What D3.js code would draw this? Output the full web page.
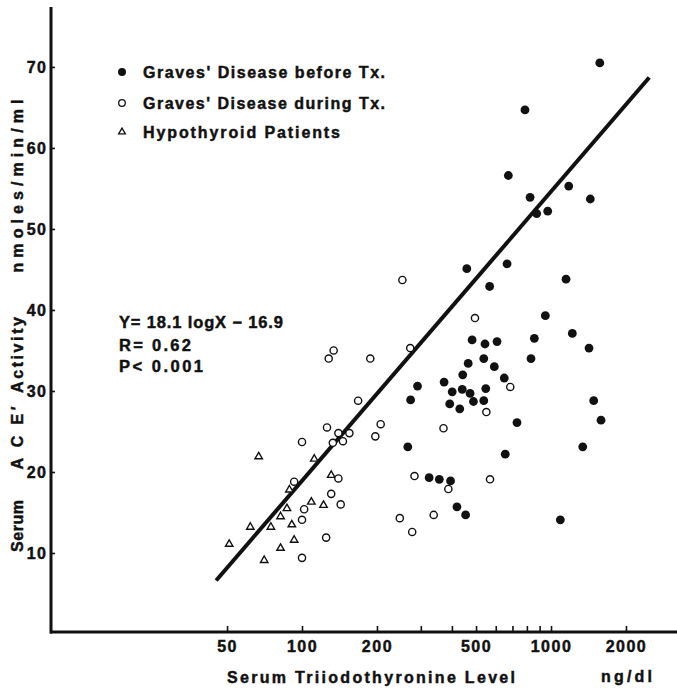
<!DOCTYPE html>
<html><head><meta charset="utf-8">
<script src="https://cdn.jsdelivr.net/npm/d3@7"></script>
<style>
html,body{margin:0;padding:0;background:#fff;}
svg{display:block;background:#fff;}
text{font-family:"Liberation Sans",Arial,Helvetica,sans-serif;font-weight:bold;fill:#111;stroke:#111;stroke-width:0.45px;}
</style></head><body>
<svg id="chart" width="677" height="694"></svg>
<script>
// ---- data (ng/dl, nmoles/min/ml) ----
const gravesBeforeX = [1570,786,674,824,876,970,1178,1438,459,666,567,1149,949,1218,1421,857,831,482,543,607,537,592,465,442,649,372,401,440,473,488,537,547,392,430,291,273,730,1484,1588,1341,655,266,324,356,395,419,454,1090];
const gravesBeforeY = [70.5,64.7,56.6,53.9,51.9,52.2,55.3,53.7,45.1,45.7,42.9,43.8,39.3,37.1,35.3,36.5,34.0,36.3,35.8,36.1,34.0,33.0,33.4,32.0,31.6,31.1,29.9,30.2,29.7,28.7,28.8,30.3,28.4,27.8,30.6,28.9,26.1,28.8,26.4,23.1,22.2,23.1,19.3,19.1,18.9,15.7,14.7,14.1];
const gravesDuringX = [253,495,272,188,134,128,168,686,550,370,207,197,155,140,146,126,133,100,283,387,569,247,277,338,140,131,143,93,102,100,125,100];
const gravesDuringY = [43.7,39.0,35.3,34.0,35.0,34.0,28.8,30.5,27.4,25.4,25.9,24.4,24.8,24.8,23.8,25.5,23.6,23.7,19.5,17.9,19.1,14.3,12.6,14.7,19.2,17.3,16.0,18.8,15.4,14.1,11.9,9.4];
const hypoX = [51,62,67,70.5,75,82,82,87,89,91,93,109,112,122,131];
const hypoY = [11.1,13.2,21.9,9.1,13.2,10.6,14.5,15.5,17.8,13.5,11.6,16.3,21.6,15.9,19.6];
const regressionX = [45.2,2480];
const regressionY = [6.6,68.7];
const xTickValues = [50,100,200,300,400,500,600,700,800,900,1000,2000];
const xTickLabels = [50,100,200,500,1000,2000];
const yTickValues = [10,20,30,40,50,60,70];
const legendLabels = ["Graves' Disease before Tx.","Graves' Disease during Tx.","Hypothyroid Patients"];
const statLines = ["Y= 18.1 logX \u2212 16.9","R= 0.62","P< 0.001"];

const svg = d3.select("#chart");
const x = d3.scaleLog().domain([10, 3200]).range([53, 676.8]);
const y = d3.scaleLinear().domain([0, 77.4]).range([634, 7]);
const ink = "#111";

// axes
const xAxis = d3.axisBottom(x).tickValues(xTickValues).tickSize(-6).tickSizeOuter(0).tickPadding(9)
  .tickFormat(d => xTickLabels.includes(d) ? String(d) : "");
const gx = svg.append("g").attr("transform","translate(0,632)").call(xAxis);
gx.select(".domain").attr("stroke",ink).attr("stroke-width",3).attr("d","M50,0H677");
gx.selectAll(".tick line").attr("stroke",ink).attr("stroke-width",1.6);
gx.selectAll(".tick text").attr("font-size",16).attr("letter-spacing",1.5).attr("fill",ink);

const yAxis = d3.axisLeft(y).tickValues(yTickValues).tickSize(-4).tickSizeOuter(0).tickPadding(4);
const gy = svg.append("g").attr("transform","translate(51,0)").call(yAxis);
gy.select(".domain").attr("stroke",ink).attr("stroke-width",3).attr("d","M0,7V633.5");
gy.selectAll(".tick line").attr("stroke",ink).attr("stroke-width",1.6);
gy.selectAll(".tick text").attr("font-size",16).attr("letter-spacing",1.2).attr("fill",ink);

// regression line
const line = d3.line().x(d => x(d[0])).y(d => y(d[1]));
svg.append("path").datum(d3.zip(regressionX, regressionY)).attr("d", line)
  .attr("fill","none").attr("stroke",ink).attr("stroke-width",4);

// points
const tri = d3.symbol().type(d3.symbolTriangle).size(24);
svg.append("g").selectAll("path").data(d3.zip(hypoX, hypoY)).join("path")
  .attr("d", tri).attr("transform", d => `translate(${x(d[0])},${y(d[1])})`)
  .attr("fill","#fff").attr("stroke",ink).attr("stroke-width",1.4);
svg.append("g").selectAll("circle").data(d3.zip(gravesDuringX, gravesDuringY)).join("circle")
  .attr("cx", d => x(d[0])).attr("cy", d => y(d[1])).attr("r",3.6)
  .attr("fill","#fff").attr("stroke",ink).attr("stroke-width",1.4);
svg.append("g").selectAll("circle").data(d3.zip(gravesBeforeX, gravesBeforeY)).join("circle")
  .attr("cx", d => x(d[0])).attr("cy", d => y(d[1])).attr("r",4.4).attr("fill",ink);

// legend
const lg = svg.append("g");
const rowY = [72, 103, 132];
lg.append("circle").attr("cx",122).attr("cy",rowY[0]).attr("r",4).attr("fill",ink);
lg.append("circle").attr("cx",122).attr("cy",rowY[1]).attr("r",3.3).attr("fill","#fff").attr("stroke",ink).attr("stroke-width",1.3);
lg.append("path").attr("d",d3.symbol().type(d3.symbolTriangle).size(20)).attr("transform",`translate(122,${rowY[2]})`)
  .attr("fill","#fff").attr("stroke",ink).attr("stroke-width",1.3);
const legendLen = [242, 242, 197];
lg.selectAll("text").data(legendLabels).join("text")
  .attr("x",143).attr("y",(d,i)=>rowY[i]+6).attr("font-size",16)
  .attr("textLength",(d,i)=>legendLen[i]).attr("lengthAdjust","spacing").text(d=>d);

// stats
const statLen = [164, 72, 84];
svg.append("g").selectAll("text").data(statLines).join("text")
  .attr("x",119).attr("y",(d,i)=>[328,351,372][i]).attr("font-size",16.5)
  .attr("textLength",(d,i)=>statLen[i]).attr("lengthAdjust","spacing").text(d=>d);

// axis titles
svg.append("text").attr("x",227).attr("y",683).attr("font-size",16)
  .attr("textLength",288).attr("lengthAdjust","spacing").text("Serum Triiodothyronine Level");
svg.append("text").attr("x",601).attr("y",682).attr("font-size",16)
  .attr("textLength",51).attr("lengthAdjust","spacing").text("ng/dl");

const yTitle = [["Serum",526,52],["A C E\u2032",438,63],["Activity",355,76],["nmoles/min/ml",186,173]];
svg.append("g").selectAll("text").data(yTitle).join("text")
  .attr("transform", d => `translate(23,${d[1]}) rotate(-90)`)
  .attr("text-anchor","middle").attr("font-size",16)
  .attr("textLength", d => d[2]).attr("lengthAdjust","spacing").text(d => d[0]);
</script>
</body></html>
